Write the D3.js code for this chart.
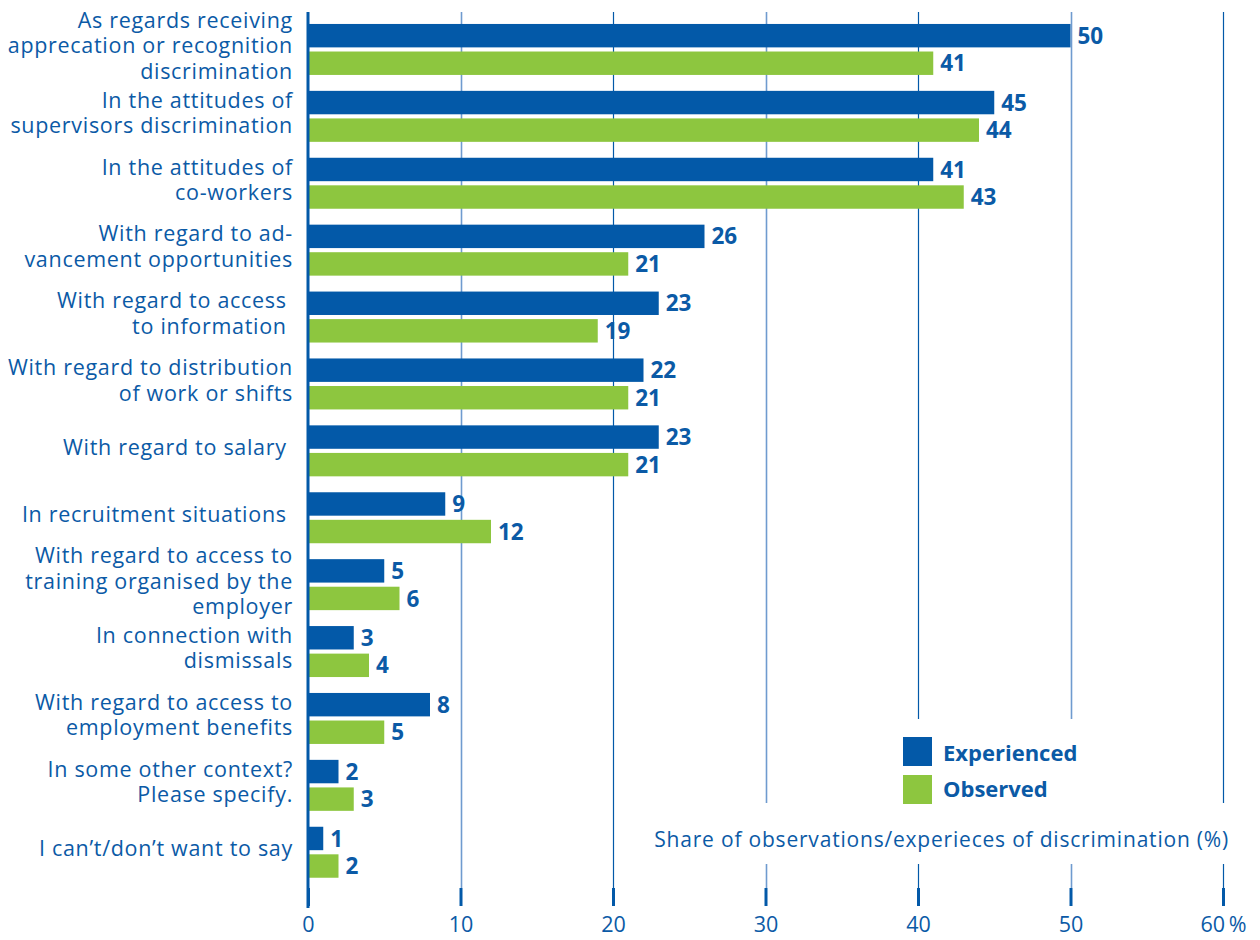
<!DOCTYPE html>
<html>
<head>
<meta charset="utf-8">
<script src="https://cdn.jsdelivr.net/npm/d3@7"></script>
<style>
  html, body { margin: 0; padding: 0; background: #fff; }
  svg { display: block; font-family: "Open Sans", Roboto, sans-serif; }
</style>
</head>
<body>
<svg id="chart" width="1260" height="940"></svg>
<script>
const categories = [
  "As regards receiving\napprecation or recognition\ndiscrimination",
  "In the attitudes of\nsupervisors discrimination",
  "In the attitudes of\nco-workers",
  "With regard to ad-\nvancement opportunities",
  "With regard to access \nto information ",
  "With regard to distribution\nof work or shifts",
  "With regard to salary ",
  "In recruitment situations ",
  "With regard to access to\ntraining organised by the\nemployer",
  "In connection with\ndismissals",
  "With regard to access to\nemployment benefits",
  "In some other context?\nPlease specify.",
  "I can’t/don’t want to say"
];
const seriesNames = ["Experienced", "Observed"];
const experienced = [50, 45, 41, 26, 23, 22, 23, 9, 5, 3, 8, 2, 1];
const observed    = [41, 44, 43, 21, 19, 21, 21, 12, 6, 4, 5, 3, 2];
const tickValues = [0, 10, 20, 30, 40, 50, 60];
const axisTitle = "Share of observations/experieces of discrimination (%)";

const BLUE = "#0359a8";
const GREEN = "#8dc63f";
const TEXT = "#0b5aa6";

const svg = d3.select("#chart");

const x = d3.scaleLinear().domain([0, 60]).range([308, 1223]);
const y = d3.scaleBand().domain(d3.range(categories.length))
  .range([16, 885.7]).paddingInner(0.238).paddingOuter(0.119);
const ys = d3.scaleBand().domain(seriesNames)
  .range([0, y.bandwidth()]).paddingInner(0.15).paddingOuter(0);
const color = d3.scaleOrdinal().domain(seriesNames).range([BLUE, GREEN]);

// gridlines
const grid = svg.append("g");
grid.selectAll("line").data(tickValues.filter(d => d > 0)).join("line")
  .attr("x1", d => Math.round(x(d)) + 0.5).attr("x2", d => Math.round(x(d)) + 0.5)
  .attr("y1", 12).attr("y2", 888)
  .attr("stroke", d => (d / 10) % 2 ? "#6f9bcf" : BLUE)
  .attr("stroke-width", d => (d / 10) % 2 ? 1.6 : 1.2);

// white areas behind legend and axis title
svg.append("rect").attr("x", 895).attr("y", 719).attr("width", 185).attr("height", 86).attr("fill", "#fff");
svg.append("rect").attr("x", 640).attr("y", 803).attr("width", 600).attr("height", 61).attr("fill", "#fff");

// bars
const rows = categories.map((c, i) => ({ i, values: [experienced[i], observed[i]] }));
const g = svg.append("g");
const groups = g.selectAll("g.grp").data(rows).join("g")
  .attr("class", "grp")
  .attr("transform", d => `translate(0,${y(d.i)})`);

groups.selectAll("rect").data(d => d.values.map((v, k) => ({ s: seriesNames[k], v })))
  .join("rect")
  .attr("x", x(0))
  .attr("y", d => ys(d.s))
  .attr("width", d => x(d.v) - x(0))
  .attr("height", ys.bandwidth())
  .attr("fill", d => color(d.s));

groups.selectAll("text.val").data(d => d.values.map((v, k) => ({ s: seriesNames[k], v })))
  .join("text")
  .attr("class", "val")
  .attr("x", d => x(d.v) + 7)
  .attr("y", d => ys(d.s) + ys.bandwidth() / 2)
  .attr("dy", "0.36em")
  .attr("fill", TEXT)
  .attr("font-size", 22.5)
  .attr("font-weight", 700)
  .text(d => d.v);

// category labels
const lh = 25.5;
const labels = svg.append("g");
categories.forEach((c, i) => {
  const lines = c.split("\n");
  const cy = y(i) + y.bandwidth() / 2;
  const t = labels.append("text")
    .attr("text-anchor", "end")
    .attr("fill", TEXT)
    .attr("font-size", 21.5)
    .attr("letter-spacing", 0.7)
    .style("white-space", "pre");
  lines.forEach((ln, k) => {
    t.append("tspan")
      .attr("x", 293)
      .attr("y", cy + (k - (lines.length - 1) / 2) * lh + 4)
      .text(ln);
  });
});

// y axis line
svg.append("line").attr("x1", 308).attr("x2", 308).attr("y1", 12).attr("y2", 908)
  .attr("stroke", BLUE).attr("stroke-width", 3);

// x axis
const xAxis = d3.axisBottom(x).tickValues(tickValues).tickSize(18).tickPadding(11)
  .tickFormat(d => d === 60 ? "60\u2009%" : d);
const ax = svg.append("g").attr("transform", "translate(0,888)").call(xAxis);
ax.select(".domain").remove();
ax.selectAll(".tick line").attr("stroke", BLUE).attr("stroke-width", 3);
ax.selectAll(".tick text").attr("fill", TEXT).attr("font-size", 21.5).attr("font-weight", 400)
  .attr("font-family", "'Open Sans', sans-serif");

// axis title
svg.append("text").attr("x", 1229).attr("y", 847).attr("text-anchor", "end")
  .attr("fill", TEXT).attr("font-size", 21).attr("letter-spacing", 0.8).text(axisTitle);

// legend
const leg = svg.append("g");
seriesNames.forEach((s, k) => {
  leg.append("rect").attr("x", 903).attr("y", 737 + k * 38).attr("width", 29).attr("height", 29)
    .attr("fill", color(s));
  leg.append("text").attr("x", 943).attr("y", 761 + k * 36)
    .attr("fill", TEXT).attr("font-size", 22).attr("font-weight", 700).text(s);
});
</script>
</body>
</html>
